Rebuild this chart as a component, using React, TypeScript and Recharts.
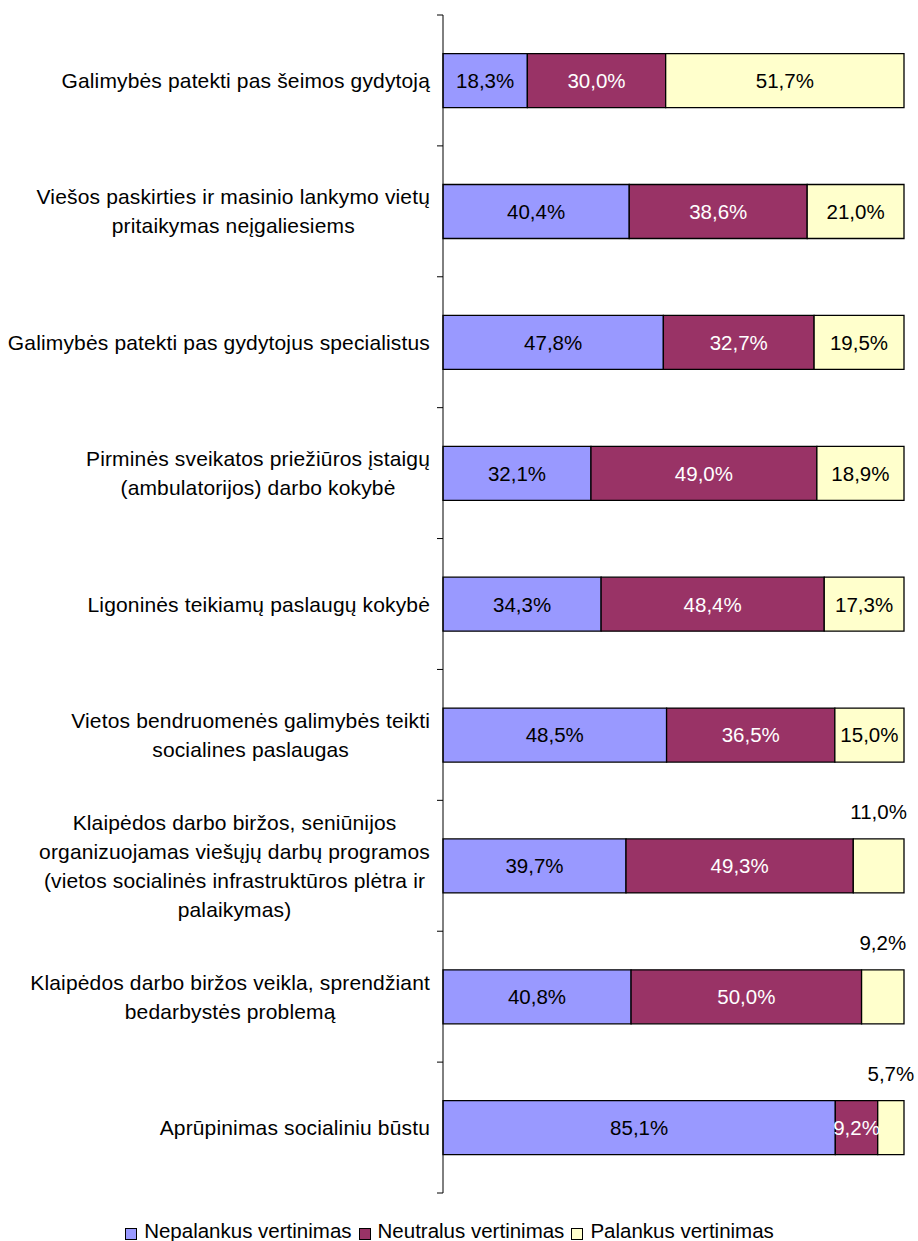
import React from 'react';
import { BarChart, Bar, XAxis, YAxis, LabelList } from 'recharts';

// categories (line breaks as in the original labels)
const categories = [
  'Galimybės patekti pas šeimos gydytoją',
  'Viešos paskirties ir masinio lankymo vietų\npritaikymas neįgaliesiems',
  'Galimybės patekti pas gydytojus specialistus',
  'Pirminės sveikatos priežiūros įstaigų\n(ambulatorijos) darbo kokybė',
  'Ligoninės teikiamų paslaugų kokybė',
  'Vietos bendruomenės galimybės teikti\nsocialines paslaugas',
  'Klaipėdos darbo biržos, seniūnijos\norganizuojamas viešųjų darbų programos\n(vietos socialinės infrastruktūros plėtra ir\npalaikymas)',
  'Klaipėdos darbo biržos veikla, sprendžiant\nbedarbystės problemą',
  'Aprūpinimas socialiniu būstu',
];

const nepalankus = [18.3, 40.4, 47.8, 32.1, 34.3, 48.5, 39.7, 40.8, 85.1];
const neutralus = [30.0, 38.6, 32.7, 49.0, 48.4, 36.5, 49.3, 50.0, 9.2];
const palankus = [51.7, 21.0, 19.5, 18.9, 17.3, 15.0, 11.0, 9.2, 5.7];

const series = [
  { key: 'nepalankus', name: 'Nepalankus vertinimas', color: '#9999FF', text: '#000' },
  { key: 'neutralus', name: 'Neutralus vertinimas', color: '#993366', text: '#fff' },
  { key: 'palankus', name: 'Palankus vertinimas', color: '#FFFFCC', text: '#000' },
];

const data = categories.map((name, i) => ({
  name,
  nepalankus: nepalankus[i],
  neutralus: neutralus[i],
  palankus: palankus[i],
}));

const W = 918;
const H = 1205;
const MARGIN = { top: 15, right: 14, bottom: 12, left: 0 };
const AXIS_W = 443;
const FONT = '"Liberation Sans", Arial, sans-serif';
const FS = 20.5;
const CAT_FS = 21;
const CAT_LS = 0.15;
const BAND = (H - MARGIN.top - MARGIN.bottom) / categories.length;

const fmt = (v: number) => v.toFixed(1).replace('.', ',') + '%';

let ctx: CanvasRenderingContext2D | null = null;
function textWidth(s: string) {
  if (!ctx) ctx = document.createElement('canvas').getContext('2d');
  if (!ctx) return s.length * CAT_FS * 0.5;
  ctx.font = `${CAT_FS}px "Liberation Sans"`;
  return ctx.measureText(s).width + s.length * CAT_LS;
}

function CategoryTick(props: any) {
  const { y, payload, index } = props;
  const ax = MARGIN.left + AXIS_W;
  const lines = String(payload.value).split('\n');
  const lh = 28.8;
  const y0 = y - ((lines.length - 1) * lh) / 2;
  const maxW = Math.max(...lines.map(textWidth));
  const cx = ax - 13 - maxW / 2;
  return (
    <g>
      <line x1={ax - 6} x2={ax} y1={y - BAND / 2} y2={y - BAND / 2} stroke="#000" />
      {index === categories.length - 1 && (
        <line x1={ax - 6} x2={ax} y1={y + BAND / 2} y2={y + BAND / 2} stroke="#000" />
      )}
      <text
        x={cx}
        y={y0}
        textAnchor="middle"
        fontSize={CAT_FS}
        letterSpacing={CAT_LS}
        fontFamily={FONT}
        fill="#000"
      >
        {lines.map((l, k) => (
          <tspan key={k} x={cx} y={y0 + k * lh} dy="0.36em">
            {l}
          </tspan>
        ))}
      </text>
    </g>
  );
}

function makeLabel(fill: string, liftSmall: boolean) {
  return (props: any) => {
    const { x, y, width, height, value } = props;
    const cx = x + width / 2;
    const above = liftSmall && value < 12;
    const cy = above ? y - 27 : y + height / 2;
    return (
      <text
        x={cx}
        y={cy}
        dy="0.36em"
        textAnchor="middle"
        fontSize={FS}
        fontFamily={FONT}
        fill={above ? '#000' : fill}
      >
        {fmt(value)}
      </text>
    );
  };
}

export default function App() {
  return (
    <div style={{ position: 'absolute', left: 0, top: 0, width: W, height: 1241, background: '#fff' }}>
      <BarChart
        width={W}
        height={H}
        data={data}
        layout="vertical"
        margin={MARGIN}
        barCategoryGap="29.5%"
      >
        <XAxis type="number" domain={[0, 100]} hide />
        <YAxis
          type="category"
          dataKey="name"
          width={AXIS_W}
          axisLine={{ stroke: '#000' }}
          tickLine={false}
          tick={<CategoryTick />}
          interval={0}
        />
        {series.map((s, i) => (
          <Bar
            key={s.key}
            dataKey={s.key}
            name={s.name}
            stackId="a"
            fill={s.color}
            stroke="#000"
            strokeWidth={1.3}
            isAnimationActive={false}
          >
            <LabelList dataKey={s.key} content={makeLabel(s.text, i === 2)} />
          </Bar>
        ))}
      </BarChart>
      <div
        style={{
          position: 'absolute',
          top: 1219,
          left: -6,
          width: W,
          display: 'flex',
          justifyContent: 'center',
          fontFamily: FONT,
          fontSize: FS,
          lineHeight: '24px',
        }}
      >
        {series.map((s) => (
          <div key={s.key} style={{ display: 'flex', alignItems: 'center', marginRight: 7 }}>
            <span
              style={{
                display: 'inline-block',
                width: 10,
                height: 10,
                background: s.color,
                border: '1px solid #000',
                marginRight: 7,
                marginTop: 6,
              }}
            />
            <span>{s.name}</span>
          </div>
        ))}
      </div>
    </div>
  );
}
